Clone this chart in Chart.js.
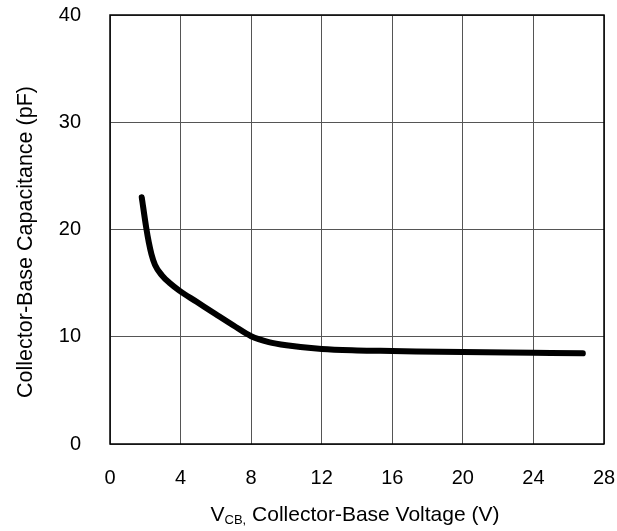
<!DOCTYPE html>
<html>
<head>
<meta charset="utf-8">
<script src="https://cdn.jsdelivr.net/npm/chart.js@4.4.1/dist/chart.umd.min.js"></script>
<style>
    html, body { margin: 0; padding: 0; background: #fff; }
    #wrap { width: 617px; height: 531px; }
</style>
</head>
<body>
<div id="wrap"><canvas id="capChart"></canvas></div>
<script>
// Данные кривой
const voltage = [1.8, 2.05, 2.2, 2.35, 2.55, 2.93, 3.4, 3.93, 4.91, 6, 7, 8, 9, 10, 12, 14, 16, 20, 24, 26.8];
const capacitance = [23.0, 20.2, 18.8, 17.7, 16.7, 15.75, 14.98, 14.3, 13.26, 12.1, 11.05, 10.05, 9.5, 9.2, 8.85, 8.72, 8.67, 8.57, 8.5, 8.45];

const xTicks = [0, 4, 8, 12, 16, 20, 24, 28];
const yTicks = [0, 10, 20, 30, 40];

const yTitle = 'Collector-Base Capacitance (pF)';
const xTitleMain = 'V';
const xTitleSub = 'CB,';
const xTitleRest = ' Collector-Base Voltage (V)';

const FONT = '"Liberation Sans", Arial, sans-serif';

// Рамка вокруг области графика и подписи осей
const framePlugin = {
    id: 'frame',
    beforeDatasetsDraw(chart) {
        const { ctx, chartArea: a } = chart;
        ctx.save();
        ctx.strokeStyle = '#000';
        ctx.lineWidth = 1.5;
        ctx.strokeRect(a.left, a.top, a.right - a.left, a.bottom - a.top);
        ctx.restore();
    },
    afterDraw(chart) {
        const { ctx } = chart;
        ctx.save();
        ctx.fillStyle = '#000';
        ctx.textBaseline = 'alphabetic';

        // заголовок оси Y
        ctx.save();
        ctx.translate(32, 242);
        ctx.rotate(-Math.PI / 2);
        ctx.textAlign = 'center';
        ctx.font = '21.5px ' + FONT;
        ctx.fillText(yTitle, 0, 0);
        ctx.restore();

        // заголовок оси X с подстрочным индексом
        const big = '21px ' + FONT;
        const small = '13px ' + FONT;
        ctx.font = big;
        const w1 = ctx.measureText(xTitleMain).width;
        const w3 = ctx.measureText(xTitleRest).width;
        ctx.font = small;
        const w2 = ctx.measureText(xTitleSub).width;
        let x = 355 - (w1 + w2 + w3) / 2;
        const base = 521;
        ctx.textAlign = 'left';
        ctx.font = big;
        ctx.fillText(xTitleMain, x, base);
        x += w1;
        ctx.font = small;
        ctx.fillText(xTitleSub, x, base + 3);
        x += w2;
        ctx.font = big;
        ctx.fillText(xTitleRest, x, base);
        ctx.restore();
    }
};

// убираем автоматические отступы под подписи, чтобы область графика была фиксированной
function noPad(scale) {
    scale.paddingTop = 0;
    scale.paddingBottom = 0;
    scale.paddingLeft = 0;
    scale.paddingRight = 0;
}

new Chart(document.getElementById('capChart'), {
    type: 'line',
    data: {
        datasets: [{
            data: voltage.map((v, i) => ({ x: v, y: capacitance[i] })),
            borderColor: '#000',
            borderWidth: 6,
            borderCapStyle: 'round',
            borderJoinStyle: 'round',
            pointRadius: 0,
            fill: false,
            cubicInterpolationMode: 'monotone'
        }]
    },
    options: {
        responsive: true,
        maintainAspectRatio: false,
        animation: false,
        devicePixelRatio: 1,
        layout: { padding: { top: 15, right: 13, left: 0, bottom: 0 } },
        plugins: {
            legend: { display: false },
            tooltip: { enabled: false }
        },
        scales: {
            x: {
                type: 'linear',
                min: 0,
                max: 28,
                afterFit(scale) { scale.height = 87; noPad(scale); },
                afterBuildTicks(scale) { scale.ticks = xTicks.map(v => ({ value: v })); },
                grid: { color: '#555', lineWidth: 1, drawTicks: false },
                border: { display: false },
                ticks: {
                    padding: 22,
                    color: '#000',
                    font: { family: FONT, size: 20 }
                }
            },
            y: {
                type: 'linear',
                min: 0,
                max: 40,
                afterFit(scale) { scale.width = 110; noPad(scale); },
                afterBuildTicks(scale) { scale.ticks = yTicks.map(v => ({ value: v })); },
                grid: { color: '#555', lineWidth: 1, drawTicks: false },
                border: { display: false },
                ticks: {
                    padding: 29,
                    color: '#000',
                    font: { family: FONT, size: 20 }
                }
            }
        }
    },
    plugins: [framePlugin]
});
</script>
</body>
</html>
